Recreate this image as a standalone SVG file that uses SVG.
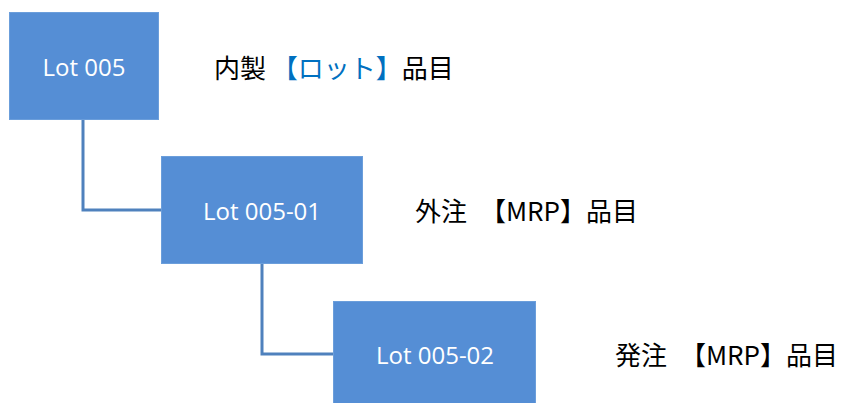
<svg xmlns="http://www.w3.org/2000/svg" width="844" height="403" viewBox="0 0 844 403">
<style>
.box{fill:#558ed5;stroke:#6b9edb;stroke-width:1}
.lot{font-family:"Open Sans","Noto Sans",sans-serif;font-size:24px;fill:#ffffff;text-anchor:middle}
.lbl{font-family:"Noto Sans CJK JP","Noto Sans",sans-serif;font-size:26px;fill:#000000}
.blue{fill:#0070c0}
.conn{fill:none;stroke:#4f81bd;stroke-width:3}
</style>
<rect width="844" height="403" fill="#ffffff"/>
<g id="connectors">
<polyline class="conn" points="83,120 83,210 161,210"/>
<polyline class="conn" points="262,264 262,354 333,354"/>
</g>
<g id="node-lot005">
<rect class="box" x="9.5" y="12.5" width="149" height="107"/>
<text class="lot" x="84" y="76">Lot 005</text>
</g>
<g id="node-lot005-01">
<rect class="box" x="161.5" y="156.5" width="201" height="107"/>
<text class="lot" x="262" y="220">Lot 005-01</text>
</g>
<g id="node-lot005-02">
<rect class="box" x="333.5" y="301.5" width="202" height="110"/>
<text class="lot" x="435" y="364">Lot 005-02</text>
</g>
<g id="label-1">
<text class="lbl" x="214" y="78">内製 <tspan class="blue">【ロット】</tspan>品目</text>
</g>
<g id="label-2">
<text class="lbl" x="415" y="221">外注　【MRP】品目</text>
</g>
<g id="label-3">
<text class="lbl" x="615" y="365">発注　【MRP】品目</text>
</g>
</svg>
